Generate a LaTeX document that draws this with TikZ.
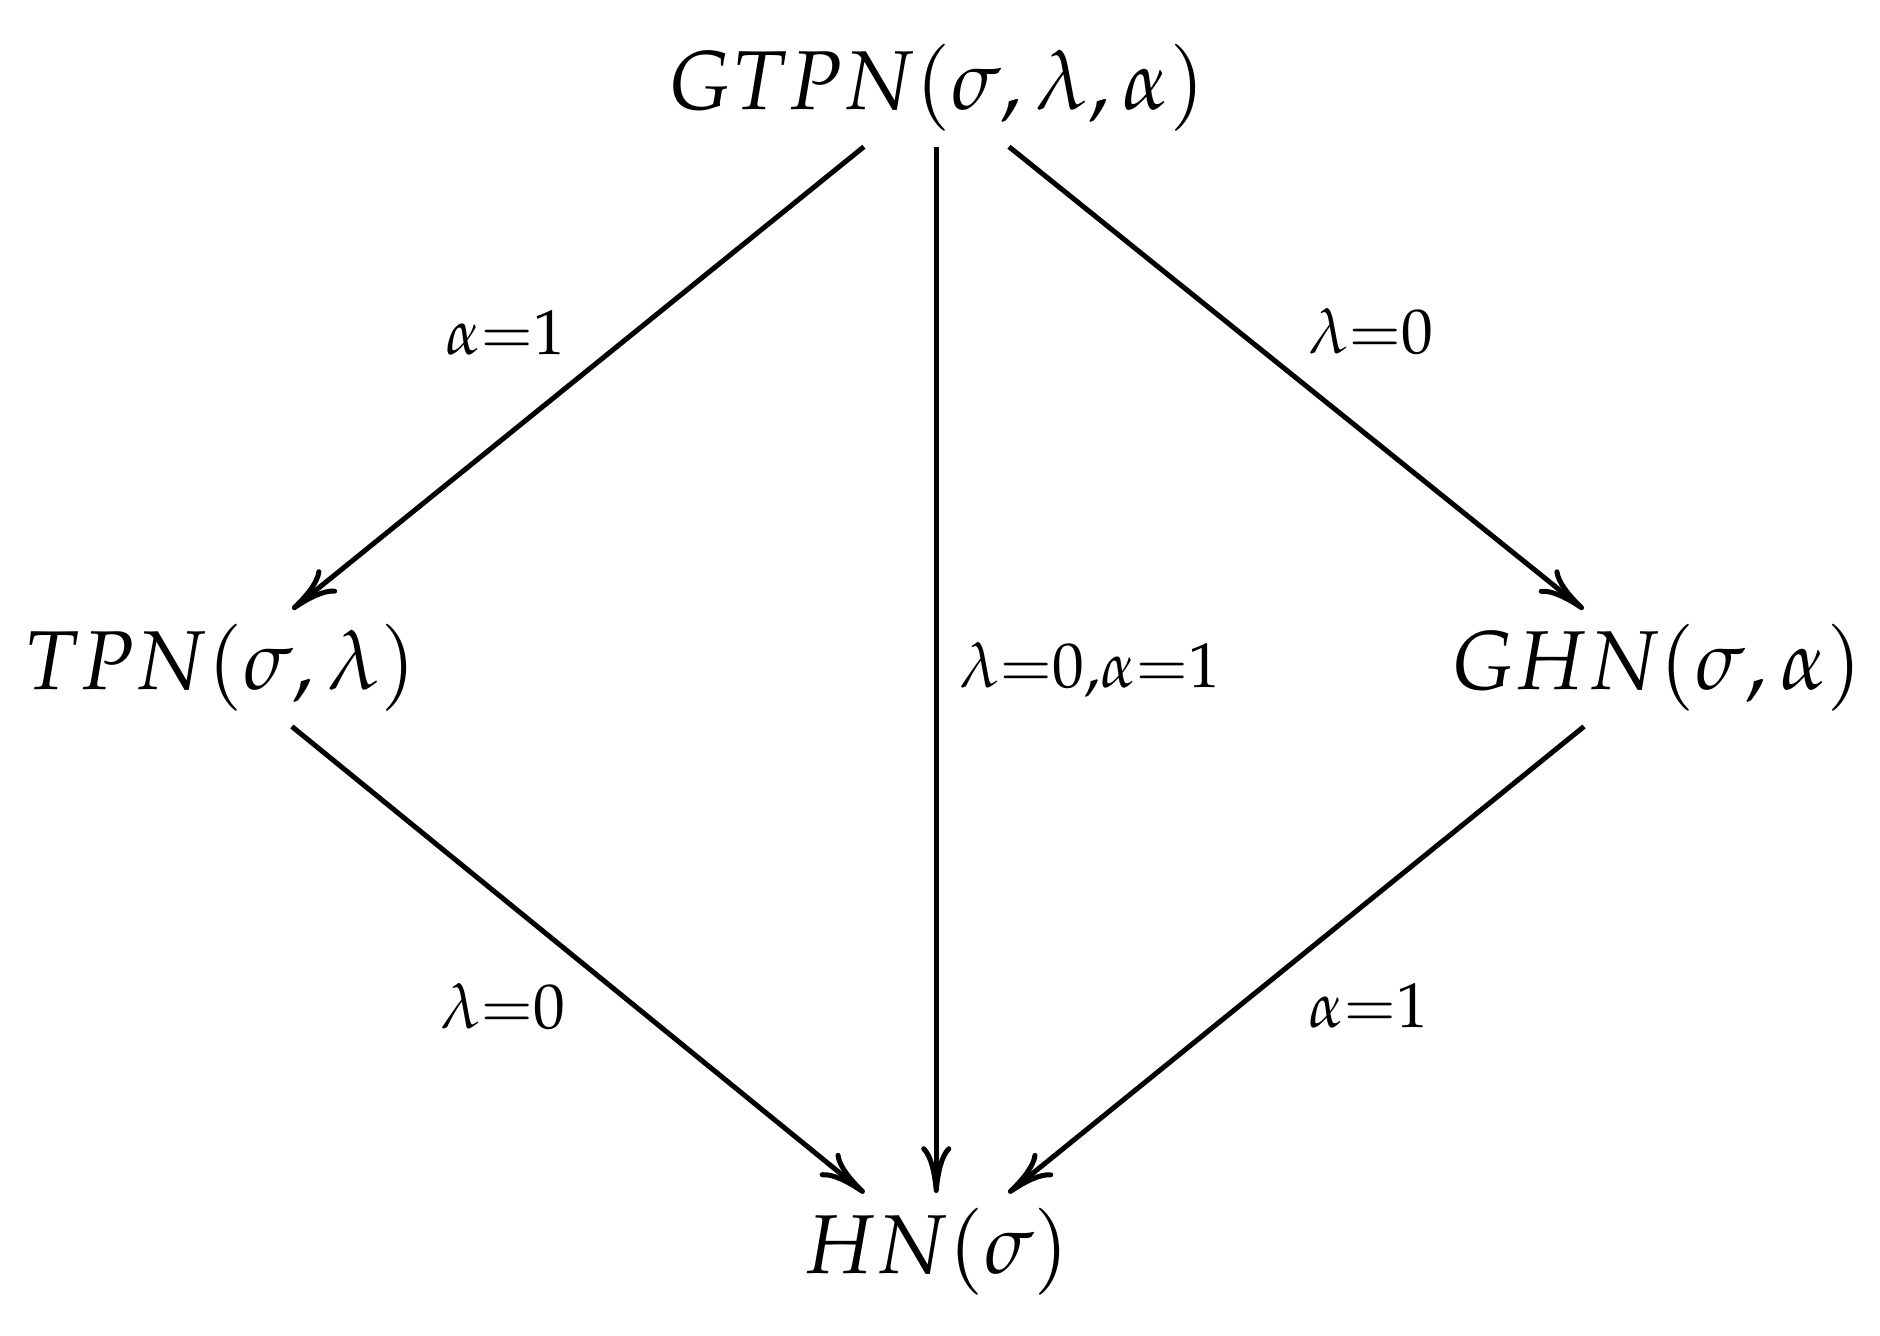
\documentclass[tikz,border=0pt]{standalone}
\usepackage{mathpazo}
\usetikzlibrary{arrows.meta}
\begin{document}
\begin{tikzpicture}[x=7.91cm, y=5.62cm, >={Computer Modern Rightarrow[length=5.6pt,width=3.6pt]}, semithick,
	obj/.style={inner sep=1.5pt},
	lab/.style={inner xsep=1.2pt, inner ysep=2.5pt}]
 \useasboundingbox (0,0) rectangle (1,1);
 \node[obj] (gtpn) at (0.498,0.934) {$GTPN(\sigma,\lambda,\alpha)$};
 \node[obj] (tpn) at (0.117,0.5) {$TPN(\sigma,\lambda)$};
 \node[obj] (ghn) at (0.881,0.5) {$GHN(\sigma,\alpha)$};
 \node[obj] (hn) at (0.498,0.063) {$HN(\sigma)$};

 \draw[->] (gtpn) -- node[lab, above left] {$\scriptstyle\alpha=1$} (tpn);
 \draw[->] (gtpn) -- node[lab, above right] {$\scriptstyle\lambda=0$} (ghn);
 \draw[->] (gtpn) -- node[lab, right=1.3pt] {$\scriptstyle\lambda=0,\alpha=1$} (hn);
 \draw[->] (tpn) -- node[lab, below left] {$\scriptstyle\lambda=0$} (hn);
 \draw[->] (ghn) -- node[lab, below right] {$\scriptstyle\alpha=1$} (hn);
\end{tikzpicture}
\end{document}
